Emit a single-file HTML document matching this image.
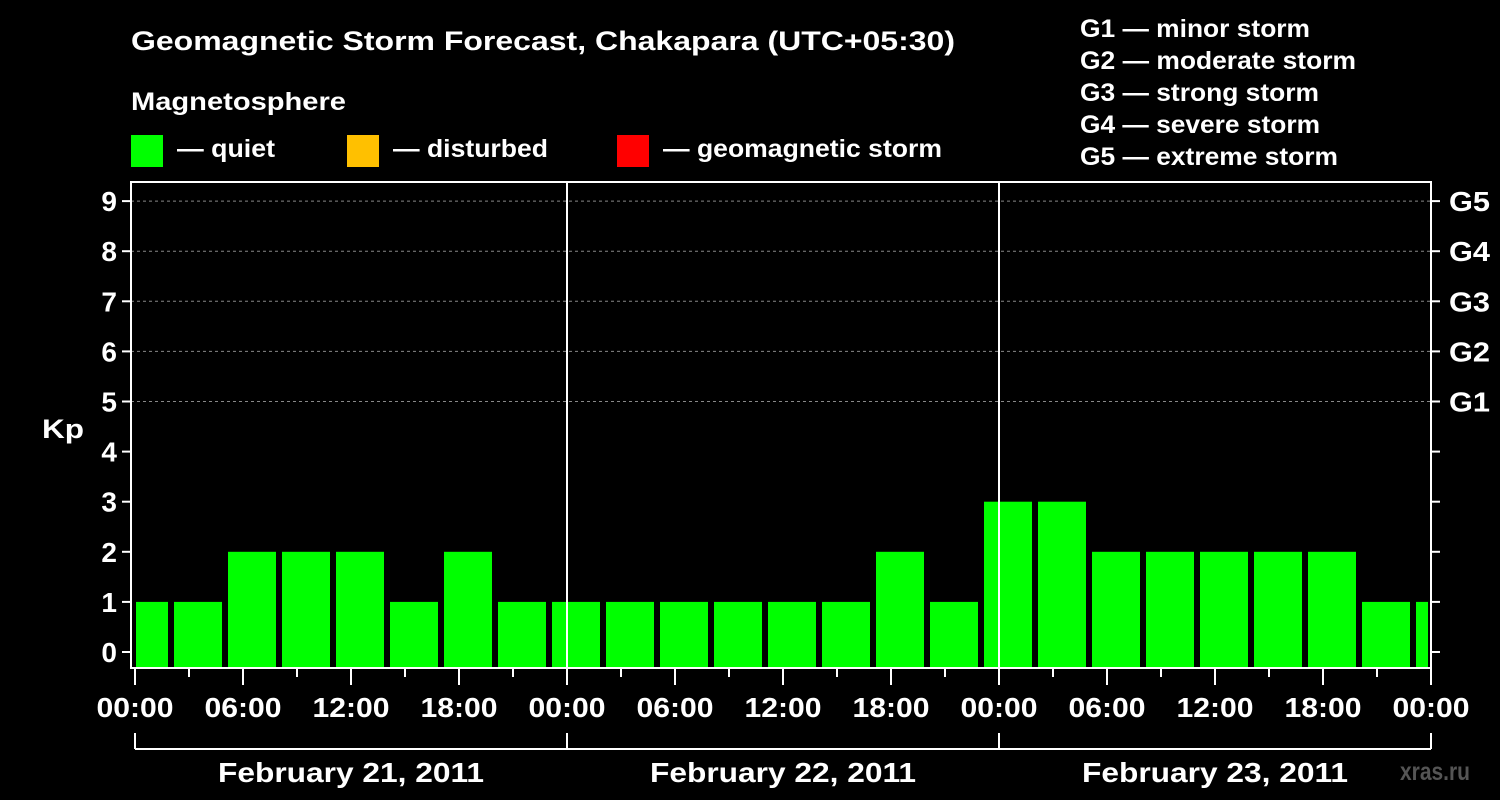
<!DOCTYPE html>
<html><head><meta charset="utf-8"><style>
html,body{margin:0;padding:0;background:#000;}
svg{display:block;font-family:"Liberation Sans",Arial,sans-serif;font-weight:bold;}
</style></head><body>
<svg id="chart" width="1500" height="800" viewBox="0 0 1500 800">
<rect width="1500" height="800" fill="#000"/>
<text x="131" y="50" fill="#fff" font-size="27" textLength="824" lengthAdjust="spacingAndGlyphs">Geomagnetic Storm Forecast, Chakapara (UTC+05:30)</text>
<text x="131" y="110" fill="#fff" font-size="25" textLength="215" lengthAdjust="spacingAndGlyphs">Magnetosphere</text>
<g><rect x="131" y="135" width="32" height="32" fill="#00ff00"/><text x="177" y="157" fill="#fff" font-size="25" textLength="98" lengthAdjust="spacingAndGlyphs">— quiet</text></g>
<g><rect x="347" y="135" width="32" height="32" fill="#ffc000"/><text x="393" y="157" fill="#fff" font-size="25" textLength="155" lengthAdjust="spacingAndGlyphs">— disturbed</text></g>
<g><rect x="617" y="135" width="32" height="32" fill="#ff0000"/><text x="663" y="157" fill="#fff" font-size="25" textLength="279" lengthAdjust="spacingAndGlyphs">— geomagnetic storm</text></g>
<g fill="#fff" font-size="25">
<text x="1080" y="37" textLength="230" lengthAdjust="spacingAndGlyphs">G1 — minor storm</text>
<text x="1080" y="69" textLength="276" lengthAdjust="spacingAndGlyphs">G2 — moderate storm</text>
<text x="1080" y="101" textLength="239" lengthAdjust="spacingAndGlyphs">G3 — strong storm</text>
<text x="1080" y="133" textLength="240" lengthAdjust="spacingAndGlyphs">G4 — severe storm</text>
<text x="1080" y="165" textLength="258" lengthAdjust="spacingAndGlyphs">G5 — extreme storm</text>
</g>
<text x="42" y="438" fill="#fff" font-size="27" textLength="42" lengthAdjust="spacingAndGlyphs">Kp</text>
<text x="1400" y="780" fill="#555" font-size="25" textLength="70" lengthAdjust="spacingAndGlyphs">xras.ru</text>
<g id="plot"></g>
</svg>
<script>
const kpValues=[1,1,2,2,2,1,2,1,1,1,1,1,1,1,2,1,3,3,2,2,2,2,2,1,1];
const yTicks=[0,1,2,3,4,5,6,7,8,9];
const gLabels=["G1","G2","G3","G4","G5"];
const xTickLabels=["00:00","06:00","12:00","18:00","00:00","06:00","12:00","18:00","00:00","06:00","12:00","18:00","00:00"];
const dayLabels=["February 21, 2011","February 22, 2011","February 23, 2011"];
const NS="http://www.w3.org/2000/svg";
const plot=document.getElementById('plot');
const X0=135,X1=1428,HOURPX=18;
const y=v=>652-v*50.1;
const x=h=>X0+h*HOURPX;
function mk(tag,attrs,parent){const e=document.createElementNS(NS,tag);for(const k in attrs)e.setAttribute(k,attrs[k]);(parent||plot).appendChild(e);return e;}
yTicks.forEach(v=>{
  if(v>=5){const l=mk('line',{x1:131,x2:1431,y1:y(v),y2:y(v),stroke:'#888','stroke-dasharray':'3,3','stroke-width':1});
  
  }
});
kpValues.forEach((v,i)=>{
  let s=x(-1+i*3)+3,e=x(-1+i*3+3)-3;
  s=Math.max(s,X0+1);e=Math.min(e,X1);
  const c=v>=5?'#ff0000':(v>=4?'#ffc000':'#00ff00');
  const r=mk('rect',{x:s,y:y(v),width:e-s,height:667-y(v),fill:c});
  
  
});
[1,2].forEach(d=>{const l=mk('line',{x1:x(d*24),x2:x(d*24),y1:182,y2:668,stroke:'#fff','stroke-width':2});

});
const f=mk('rect',{x:131,y:182,width:1300,height:486,fill:'none',stroke:'#fff','stroke-width':2});


yTicks.forEach(v=>{
  mk('line',{x1:122,x2:131,y1:y(v),y2:y(v),stroke:'#fff','stroke-width':2});
  mk('line',{x1:1431,x2:1440,y1:y(v),y2:y(v),stroke:'#fff','stroke-width':2});
  const t=mk('text',{x:117,y:y(v)+10,fill:'#fff','font-size':28,'text-anchor':'end'});t.textContent=v;
  
  
});
gLabels.forEach((g,i)=>{const t=mk('text',{x:1449,y:y(i+5)+10,fill:'#fff','font-size':28,textLength:41,lengthAdjust:'spacingAndGlyphs'});t.textContent=g;

});
for(let h=0;h<=72;h+=3){const major=h%6===0;mk('line',{x1:x(h),x2:x(h),y1:669,y2:major?685:677,stroke:'#fff','stroke-width':2});}
xTickLabels.forEach((s,i)=>{const t=mk('text',{x:x(i*6)-38.5,y:717,fill:'#fff','font-size':28,textLength:77,lengthAdjust:'spacingAndGlyphs'});t.textContent=s;

});
mk('line',{x1:x(0),x2:x(72),y1:749,y2:749,stroke:'#fff','stroke-width':2});
[0,1,2,3].forEach(d=>mk('line',{x1:x(d*24),x2:x(d*24),y1:733,y2:749,stroke:'#fff','stroke-width':2}));
dayLabels.forEach((s,i)=>{const t=mk('text',{x:x(i*24+12)-133,y:782,fill:'#fff','font-size':28,textLength:266,lengthAdjust:'spacingAndGlyphs'});t.textContent=s;

});
</script>
</body></html>
